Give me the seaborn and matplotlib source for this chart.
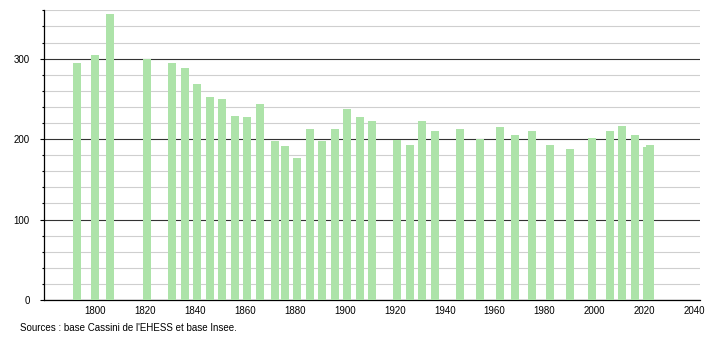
import numpy as np
import pandas as pd
import matplotlib
matplotlib.use("Agg")
import matplotlib.pyplot as plt
import seaborn as sns

years = [1793, 1800, 1806, 1821, 1831, 1836, 1841, 1846, 1851, 1856, 1861, 1866,
         1872, 1876, 1881, 1886, 1891, 1896, 1901, 1906, 1911, 1921, 1926, 1931,
         1936, 1946, 1954, 1962, 1968, 1975, 1982, 1990, 1999, 2006, 2011, 2016,
         2021, 2022]
population = [295, 304, 355, 300, 295, 288, 268, 252, 250, 229, 228, 244,
              198, 191, 177, 213, 198, 212, 238, 227, 222, 199, 193, 223,
              210, 213, 200, 215, 205, 210, 193, 188, 202, 210, 216, 205,
              190, 193]
x_ticks = list(range(1800, 2041, 20))
y_major = [0, 100, 200, 300]
y_minor = list(range(0, 361, 20))
source_text = "Sources : base Cassini de l'EHESS et base Insee."

df = pd.DataFrame({"year": years, "pop": population})

plt.rcParams['font.family'] = ['Liberation Sans', 'DejaVu Sans']

fig = plt.figure(figsize=(7.1, 3.4), dpi=100)
ax = fig.add_axes([44 / 710, 40 / 340, (700 - 44) / 710, (330 - 40) / 340])

min_gap = float(np.min(np.diff(sorted(set(years)))))
sns.barplot(data=df, x="year", y="pop", native_scale=True, ax=ax,
            color="#ade3a9", saturation=1, errorbar=None,
            width=3.2 / min_gap, linewidth=0, zorder=3)

ax.set_xlim(1779.6, 2042.2)
ax.set_ylim(0, 360.5)
ax.set_xticks(x_ticks)
ax.set_xticklabels([str(t) for t in x_ticks])
ax.set_yticks(y_major)
ax.set_yticklabels([str(t) for t in y_major])
ax.set_yticks(y_minor, minor=True)

ax.set_axisbelow(True)
ax.grid(which='minor', axis='y', color='#cfcfcf', linewidth=0.8, zorder=0)
ax.grid(which='major', axis='y', color='#333333', linewidth=0.8, zorder=1)
ax.grid(which='both', axis='x', visible=False)

for s in ['top', 'right']:
    ax.spines[s].set_visible(False)
for s in ['left', 'bottom']:
    ax.spines[s].set_color('black')
    ax.spines[s].set_linewidth(0.9)

ax.tick_params(axis='x', which='both', length=0, pad=4, labelsize=7, colors='black')
ax.tick_params(axis='y', which='major', length=3.2, width=0.8, pad=7, labelsize=7, colors='black')
ax.tick_params(axis='y', which='minor', length=1.5, width=0.8)
ax.set_xlabel("")
ax.set_ylabel("")

fig.text(20 / 710, (340 - 328) / 340, source_text, fontsize=7, va='center', ha='left')

fig.savefig("out.png", dpi=100)
